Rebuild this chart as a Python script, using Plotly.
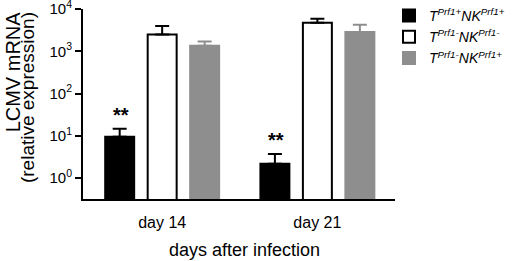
import numpy as np
import plotly.graph_objects as go

# ---- data ----
categories = ["day 14", "day 21"]
series_names = [
    "<i>T<sup>Prf1+</sup>NK<sup>Prf1+</sup></i>",
    "<i>T<sup>Prf1-</sup>NK<sup>Prf1-</sup></i>",
    "<i>T<sup>Prf1-</sup>NK<sup>Prf1+</sup></i>",
]
means_tnk_pos = [9.5, 2.16]
means_tnk_neg = [2490, 4740]
means_t_neg_nk_pos = [1360, 2880]
err_tnk_pos = [5.1, 1.54]
err_tnk_neg = [1490, 1150]
err_t_neg_nk_pos = [350, 1380]
significance = ["**", "**"]
ytick_vals = [1, 10, 100, 1000, 10000]
ytick_text = ["10<sup>0</sup>", "10<sup>1</sup>", "10<sup>2</sup>", "10<sup>3</sup>", "10<sup>4</sup>"]

FONT = "Arial, 'Liberation Sans', sans-serif"
W, H = 520, 261
ML, MR, MT, MB = 83, 125, 9, 62
BARGAP = 0.179
XRANGE = [-0.51, 1.5]

fills = ["#000000", "#ffffff", "#8e8e8e"]
lines = ["#000000", "#000000", "#8e8e8e"]
errcolors = ["#000000", "#000000", "#8e8e8e"]
means = [means_tnk_pos, means_tnk_neg, means_t_neg_nk_pos]
errs = [err_tnk_pos, err_tnk_neg, err_t_neg_nk_pos]

fig = go.Figure()
for name, m, e, fc, lc, ec in zip(series_names, means, errs, fills, lines, errcolors):
    fig.add_trace(go.Bar(
        x=categories, y=m, name=name,
        marker=dict(color=fc, line=dict(color=lc, width=2)),
        error_y=dict(type="data", array=e, arrayminus=[0] * len(e), symmetric=False,
                     color=ec, thickness=2, width=7),
    ))

# significance marks above the first series
px_per_unit = (W - ML - MR) / (XRANGE[1] - XRANGE[0])
slot_px = (1 - BARGAP) / 3 * px_per_unit
for cat, m, e, s in zip(categories, means_tnk_pos, err_tnk_pos, significance):
    fig.add_annotation(x=cat, y=np.log10(m + e), text="<b>" + s + "</b>", showarrow=False,
                       xshift=-slot_px + 1, yshift=14, yanchor="middle",
                       font=dict(family=FONT, size=20, color="black"))

# axis titles as annotations
fig.add_annotation(xref="paper", yref="paper", x=-0.2234, y=0.997, text="LCMV mRNA",
                   textangle=-90, showarrow=False, xanchor="center", yanchor="top",
                   font=dict(family=FONT, size=20, color="black"))
fig.add_annotation(xref="paper", yref="paper", x=-0.1795, y=0.997, text="(relative expression)",
                   textangle=-90, showarrow=False, xanchor="center", yanchor="top",
                   font=dict(family=FONT, size=19, color="black"))
fig.add_annotation(xref="paper", yref="paper", x=0.517, y=-0.268, text="days after infection",
                   showarrow=False, xanchor="center", yanchor="middle",
                   font=dict(family=FONT, size=18, color="black"))

fig.update_layout(
    width=W, height=H,
    margin=dict(l=ML, r=MR, t=MT, b=MB, autoexpand=False),
    paper_bgcolor="white", plot_bgcolor="white",
    barmode="group", bargap=BARGAP, bargroupgap=0.318,
    font=dict(family=FONT, size=15, color="black"),
    showlegend=True,
    legend=dict(xref="container", yref="container", x=389 / W, xanchor="left",
                y=1.055, yanchor="top",
                font=dict(family=FONT, size=14, color="black"),
                bgcolor="rgba(0,0,0,0)", tracegroupgap=0),
)
fig.update_xaxes(range=XRANGE, showline=True, linecolor="black", linewidth=2,
                 ticks="", showgrid=False, zeroline=False, automargin=False,
                 tickfont=dict(family=FONT, size=16), ticklabelstandoff=8)
fig.update_yaxes(type="log", range=[-0.5, 4.003], showline=True, linecolor="black", linewidth=2,
                 ticks="outside", ticklen=6, tickwidth=2, tickcolor="black", automargin=False,
                 tickvals=ytick_vals, ticktext=ytick_text, showgrid=False, zeroline=False,
                 ticklabeloverflow="allow",
                 tickfont=dict(family=FONT, size=15))

fig.write_html("out.html", config={"displayModeBar": False},
               post_script="document.body.style.margin='0px';")
